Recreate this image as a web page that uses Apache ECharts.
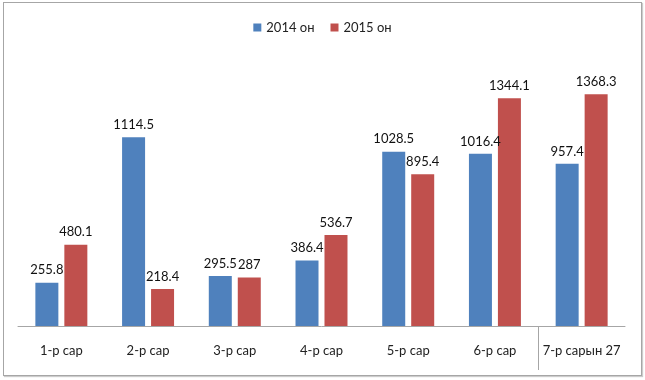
<!DOCTYPE html>
<html>
<head>
<meta charset="utf-8">
<script src="https://cdn.jsdelivr.net/npm/echarts@6/dist/echarts.min.js"></script>
<style>
html,body{margin:0;padding:0;background:#fff;}
#c{width:645px;height:380px;position:relative;}
#frame{position:absolute;left:3px;top:2px;width:637px;height:372px;border:1px solid #a6a6a6;box-shadow:1px 1px 1px #ccc;pointer-events:none;}
</style>
</head>
<body>
<div id="c"></div>
<div id="frame"></div>
<script>
const categories = ['1-р сар','2-р сар','3-р сар','4-р сар','5-р сар','6-р сар','7-р сарын 27'];
const seriesNames = ['2014 он','2015 он'];
const values2014 = [255.8, 1114.5, 295.5, 386.4, 1028.5, 1016.4, 957.4];
const values2015 = [480.1, 218.4, 287, 536.7, 895.4, 1344.1, 1368.3];

const chart = echarts.init(document.getElementById('c'));
const font = 'Lato, "Noto Sans", sans-serif';
chart.setOption({
  animation: false,
  textStyle: {fontFamily: font},
  legend: {
    top: 16, left: 'center',
    itemWidth: 8, itemHeight: 8, itemGap: 16,
    icon: 'rect',
    textStyle: {fontSize: 13, color: '#222', fontFamily: font},
    data: seriesNames
  },
  grid: {left: 18, right: 20, top: 55, bottom: 54},
  xAxis: {
    type: 'category',
    data: categories,
    axisLine: {lineStyle: {color: '#a6a6a6', width: 1}},
    axisTick: {show: false},
    axisLabel: {fontSize: 13, color: '#222', margin: 18, fontFamily: font, interval: 0}
  },
  yAxis: {
    type: 'value', min: 0, max: 1600,
    show: false,
    splitLine: {show: false}
  },
  series: [
    {
      name: seriesNames[0], type: 'bar', data: values2014,
      barWidth: 23, barGap: '26%',
      itemStyle: {color: '#4f81bd'},
      label: {show: true, position: 'top', distance: 6, fontSize: 13, color: '#111', fontFamily: font}
    },
    {
      name: seriesNames[1], type: 'bar', data: values2015,
      barWidth: 23,
      itemStyle: {color: '#c0504d'},
      label: {show: true, position: 'top', distance: 6, fontSize: 13, color: '#111', fontFamily: font}
    }
  ]
});
// separator between the last two categories, placed from the axis scale
const xa = chart.convertToPixel({xAxisIndex: 0}, categories[5]);
const xb = chart.convertToPixel({xAxisIndex: 0}, categories[6]);
const y0 = chart.convertToPixel({yAxisIndex: 0}, 0);
const sx = Math.round((xa + xb) / 2) + 0.5;
chart.setOption({
  graphic: [{
    type: 'line', silent: true,
    shape: {x1: sx, y1: y0, x2: sx, y2: y0 + 44},
    style: {stroke: '#a6a6a6', lineWidth: 1}
  }]
});
</script>
</body>
</html>
